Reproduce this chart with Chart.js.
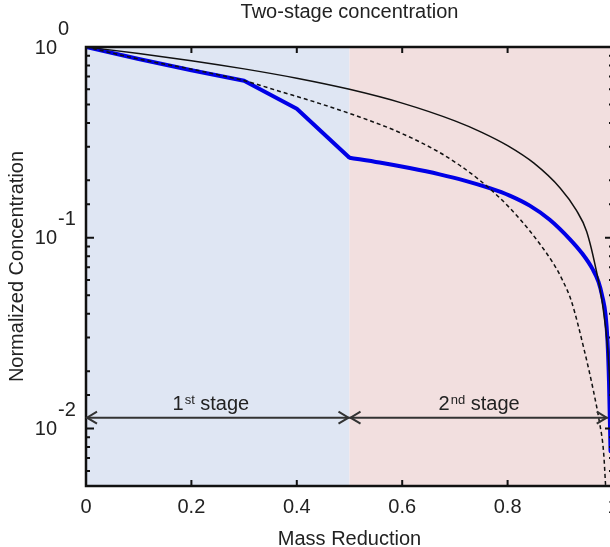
<!DOCTYPE html>
<html>
<head>
<meta charset="utf-8">
<script src="https://cdn.jsdelivr.net/npm/chart.js@4/dist/chart.umd.min.js"></script>
<style>
  html, body { margin: 0; padding: 0; background: #fff; overflow: hidden; }
  #wrap { position: absolute; left: 0; top: 0; width: 640px; height: 547px; }
</style>
</head>
<body>
<div id="wrap"><canvas id="c"></canvas></div>
<script>
// ── data ──
const solidX = [0, 0.1, 0.2, 0.3, 0.4, 0.5, 0.6, 0.7, 0.75, 0.8, 0.85, 0.9, 0.93, 0.95, 0.97, 0.98, 0.99, 0.995, 0.998, 1.0]
const solidY = [1, 0.925, 0.848, 0.768, 0.686, 0.60, 0.508, 0.41, 0.358, 0.304, 0.246, 0.182, 0.14, 0.108, 0.064, 0.045, 0.026, 0.015, 0.007, 0.003]

const dashX = [0, 0.1, 0.199, 0.254, 0.301, 0.368, 0.444, 0.519, 0.595, 0.671, 0.709, 0.747, 0.785, 0.823, 0.861, 0.889, 0.904, 0.921, 0.946, 0.963, 0.974, 0.982, 0.986, 0.99]
const dashY = [1, 0.865, 0.766, 0.712, 0.665, 0.585, 0.505, 0.43, 0.3565, 0.28, 0.24, 0.2004, 0.162, 0.1257, 0.093, 0.0717, 0.0601, 0.0466, 0.0254, 0.0157, 0.0109, 0.0076, 0.005, 0.0032]

// blue: straight segments in stage 1, smooth curve in stage 2
const blue1X = [0, 0.1, 0.2, 0.3, 0.4, 0.5]
const blue1Y = [1, 0.865, 0.755, 0.665, 0.475, 0.263]
const blue2X = [0.5, 0.557, 0.614, 0.671, 0.7185, 0.766, 0.804, 0.842, 0.88, 0.9175, 0.942, 0.961, 0.9725, 0.98, 0.986, 0.9896, 0.9924, 0.9953]
const blue2Y = [0.263, 0.248, 0.232, 0.215, 0.1995, 0.182, 0.1664, 0.1474, 0.1244, 0.0988, 0.0824, 0.0687, 0.0587, 0.0489, 0.0393, 0.0287, 0.0177, 0.0076]

const xTicks     = [0, 0.2, 0.4, 0.6, 0.8, 1]
const stageEdges = [0, 0.5, 0.99]
const stageMid   = [0.236, 0.745]
const stageNum   = ['1', '2']
const stageSup   = ['st', 'nd']
const stageWord  = ' stage'
const arrowLevel = 0.0114

const FONT = "'Liberation Sans', Arial, sans-serif"
const TXT  = '#222'
const BLUE = '#0000e6'

const pts = (xs, ys) => xs.map((x, i) => ({ x, y: ys[i] }))

function arrowHead(ctx, x, y, dir) {
  ctx.beginPath()
  ctx.moveTo(x + dir * 10, y - 6)
  ctx.lineTo(x, y)
  ctx.lineTo(x + dir * 10, y + 6)
  ctx.stroke()
}

const decor = {
  id: 'decor',
  beforeDatasetsDraw(chart) {
    const { ctx, chartArea: a, scales: { x } } = chart
    const xm = x.getPixelForValue(stageEdges[1])
    ctx.save()
    ctx.fillStyle = '#dfe6f3'
    ctx.fillRect(a.left, a.top, xm - a.left, a.bottom - a.top)
    ctx.fillStyle = '#f2dfdf'
    ctx.fillRect(xm, a.top, a.right - xm, a.bottom - a.top)
    ctx.restore()
  },
  afterDatasetsDraw(chart) {
    const { ctx, chartArea: a, scales: { x, y } } = chart
    ctx.save()

    // title over the plot centre
    ctx.fillStyle = TXT
    ctx.font = '20px ' + FONT
    ctx.textAlign = 'center'
    ctx.textBaseline = 'middle'
    ctx.fillText('Two-stage concentration', (a.left + a.right) / 2, 12)

    // box
    ctx.strokeStyle = '#111'
    ctx.lineWidth = 2.5
    ctx.strokeRect(a.left, a.top, a.right - a.left, a.bottom - a.top)

    // inward ticks
    ctx.lineWidth = 2
    ctx.beginPath()
    x.ticks.forEach(t => {
      const px = x.getPixelForValue(t.value)
      ctx.moveTo(px, a.bottom); ctx.lineTo(px, a.bottom - 6)
      ctx.moveTo(px, a.top);    ctx.lineTo(px, a.top + 6)
    })
    y.ticks.forEach(t => {
      const py = y.getPixelForValue(t.value)
      const e = Math.log10(t.value)
      const len = Math.abs(e - Math.round(e)) < 1e-6 ? 8 : 4
      ctx.moveTo(a.left, py);  ctx.lineTo(a.left + len, py)
      ctx.moveTo(a.right, py); ctx.lineTo(a.right - len, py)
    })
    ctx.stroke()

    // y tick labels 10^n
    y.ticks.forEach(t => {
      const e = Math.log10(t.value)
      if (Math.abs(e - Math.round(e)) > 1e-6) return
      const py = y.getPixelForValue(t.value)
      ctx.font = '20px ' + FONT
      ctx.textAlign = 'right'
      ctx.fillText('10', 57, py + 1)
      ctx.textAlign = 'left'
      ctx.fillText(String(Math.round(e)), 58, py - 18)
    })

    // stage arrows
    const ay = y.getPixelForValue(arrowLevel)
    ctx.strokeStyle = '#333'
    ctx.lineWidth = 2
    for (let i = 0; i < 2; i++) {
      const x0 = x.getPixelForValue(stageEdges[i])
      const x1 = x.getPixelForValue(stageEdges[i + 1])
      ctx.beginPath()
      ctx.moveTo(x0, ay); ctx.lineTo(x1, ay)
      ctx.stroke()
      arrowHead(ctx, x0 + 1, ay, 1)
      arrowHead(ctx, x1 - 1, ay, -1)

      // label with superscript
      ctx.textAlign = 'left'
      ctx.textBaseline = 'alphabetic'
      ctx.font = '20px ' + FONT
      const w1 = ctx.measureText(stageNum[i]).width
      const w3 = ctx.measureText(stageWord).width
      ctx.font = '13px ' + FONT
      const w2 = ctx.measureText(stageSup[i]).width
      let sx = x.getPixelForValue(stageMid[i]) - (w1 + w2 + w3) / 2
      const by = ay - 8
      ctx.font = '20px ' + FONT
      ctx.fillText(stageNum[i], sx, by); sx += w1 + 1
      ctx.font = '13px ' + FONT
      ctx.fillText(stageSup[i], sx, by - 6); sx += w2
      ctx.font = '20px ' + FONT
      ctx.fillText(stageWord, sx, by)
    }
    ctx.restore()
  }
}

new Chart(document.getElementById('c'), {
  type: 'line',
  data: {
    datasets: [
      {
        label: 'solid', data: pts(solidX, solidY),
        borderColor: '#111', borderWidth: 1.5,
        pointRadius: 0, cubicInterpolationMode: 'monotone', fill: false,
      },
      {
        label: 'dashed', data: pts(dashX, dashY),
        borderColor: '#111', borderWidth: 1.5, borderDash: [4, 3],
        pointRadius: 0, cubicInterpolationMode: 'monotone', fill: false,
      },
      {
        label: 'stage 1', data: pts(blue1X, blue1Y),
        borderColor: BLUE, borderWidth: 4, borderJoinStyle: 'round',
        pointRadius: 0, tension: 0, fill: false,
      },
      {
        label: 'stage 2', data: pts(blue2X, blue2Y),
        borderColor: BLUE, borderWidth: 4, borderJoinStyle: 'round', borderCapStyle: 'round',
        pointRadius: 0, cubicInterpolationMode: 'monotone', fill: false,
      },
    ]
  },
  options: {
    responsive: true, maintainAspectRatio: false, animation: false,
    layout: { padding: { left: 0, right: 27, top: 47, bottom: 0 } },
    plugins: {
      legend: { display: false },
      tooltip: { enabled: false },
      title: { display: false },
    },
    scales: {
      x: {
        type: 'linear', min: 0, max: 1,
        afterBuildTicks: s => { s.ticks = xTicks.map(v => ({ value: v })) },
        afterFit: s => { s.height = 61 },
        grid: { display: false, drawTicks: false },
        border: { display: false },
        ticks: { color: TXT, font: { family: FONT, size: 20 }, padding: 9, maxRotation: 0,
                 callback: v => String(v) },
        title: { display: true, text: 'Mass Reduction', color: TXT,
                 font: { family: FONT, size: 20, lineHeight: 0.8 }, padding: { top: 0, bottom: 0 } },
      },
      y: {
        type: 'logarithmic', min: 0.005, max: 1,
        afterFit: s => { s.width = 86 },
        grid: { display: false, drawTicks: false },
        border: { display: false },
        ticks: { display: false },
        title: { display: true, text: 'Normalized Concentration', color: TXT,
                 font: { family: FONT, size: 20 }, padding: { top: 5, bottom: 0 } },
      },
    },
  },
  plugins: [decor],
})
</script>
</body>
</html>
